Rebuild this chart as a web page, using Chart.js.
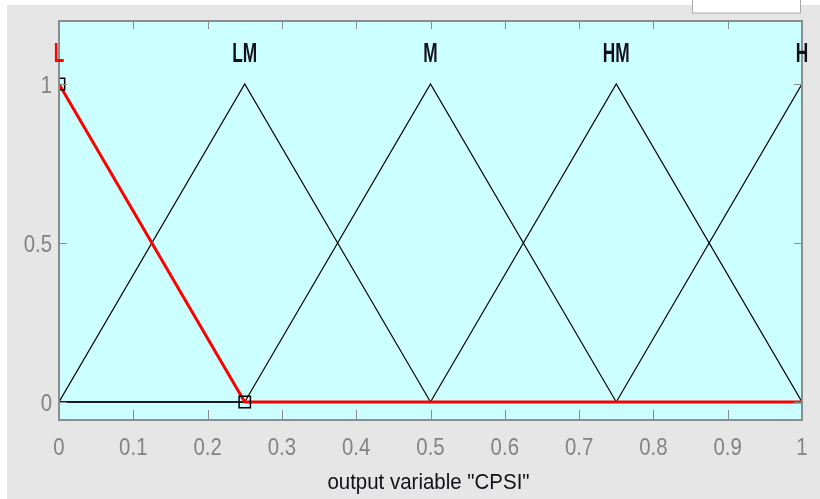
<!DOCTYPE html>
<html>
<head>
<meta charset="utf-8">
<script src="https://cdn.jsdelivr.net/npm/chart.js@4/dist/chart.umd.min.js"></script>
<style>
  html, body { margin: 0; padding: 0; background: #fff; }
  #mfChart { display: block; }
</style>
</head>
<body>
<canvas id="mfChart" width="820" height="499"></canvas>
<script>
// membership functions of output variable "CPSI", sampled at the break points
const xValues = [0, 0.25, 0.5, 0.75, 1]
const mfNames = ['L', 'LM', 'M', 'HM', 'H']
const mfPeaks = [0, 0.25, 0.5, 0.75, 1]
const mfL = [1, 0, 0, 0, 0]
const mfLM = [0, 1, 0, 0, 0]
const mfM = [0, 0, 1, 0, 0]
const mfHM = [0, 0, 0, 1, 0]
const mfH = [0, 0, 0, 0, 1]
const yTicks = [0, 0.5, 1]
const axisTitle = 'output variable "CPSI"'

const sans = "'Liberation Sans', Arial, Helvetica, sans-serif"
const tickGray = '#838383'

const toPoints = (ys) => xValues.map((x, i) => ({ x: x, y: ys[i] }))

const blackMf = (label, ys) => ({
  label: label,
  data: toPoints(ys),
  showLine: true,
  borderColor: '#000000',
  borderWidth: 1.2,
  pointRadius: 0,
  tension: 0
})

const datasets = [
  {
    label: 'L',
    data: toPoints(mfL),
    showLine: true,
    borderColor: '#ff0000',
    borderWidth: 3,
    tension: 0,
    clip: 0,
    pointStyle: 'rect',
    pointRadius: [8, 8, 0, 0, 0],
    pointBorderColor: '#000000',
    pointBackgroundColor: 'rgba(0,0,0,0)',
    pointBorderWidth: 1.5
  },
  blackMf('LM', mfLM),
  blackMf('M', mfM),
  blackMf('HM', mfHM),
  blackMf('H', mfH)
]

// the matlab text is narrow, so squeeze it sideways
function narrowText (ctx, text, x, y, font, squeeze, align) {
  ctx.save()
  ctx.translate(x, y)
  ctx.scale(squeeze, 1)
  ctx.font = font
  ctx.textAlign = align
  ctx.textBaseline = 'alphabetic'
  ctx.fillText(text, 0, 0)
  ctx.restore()
}

// gray figure, white strips and the cyan axes area
const figureBackground = {
  id: 'figureBackground',
  beforeDraw (chart) {
    const { ctx, chartArea: a, width, height } = chart
    ctx.save()
    ctx.fillStyle = '#ffffff'
    ctx.fillRect(0, 0, width, height)
    ctx.fillStyle = '#e6e6e6'
    ctx.fillRect(7, 5, width - 7, height - 5)
    ctx.fillStyle = '#ffffff'
    ctx.fillRect(692, 0, 109, 13)
    ctx.strokeStyle = '#a8a8a8'
    ctx.lineWidth = 1
    ctx.strokeRect(692.5, -1, 108, 14)
    ctx.fillStyle = '#ccffff'
    ctx.fillRect(a.left, a.top, a.right - a.left, a.bottom - a.top)
    ctx.restore()
  }
}

// matlab style box with inward ticks, tick labels, axis title and MF names
const axesFrame = {
  id: 'axesFrame',
  afterDraw (chart) {
    const { ctx, chartArea: a, scales } = chart
    const x = scales.x
    const y = scales.y
    ctx.save()
    ctx.strokeStyle = '#8c8c8c'
    ctx.lineWidth = 1
    ctx.beginPath()
    x.ticks.forEach(t => {
      const px = Math.round(x.getPixelForValue(t.value)) + 0.5
      ctx.moveTo(px, a.bottom)
      ctx.lineTo(px, a.bottom - 10)
      ctx.moveTo(px, a.top)
      ctx.lineTo(px, a.top + 8)
    })
    y.ticks.forEach(t => {
      const py = Math.round(y.getPixelForValue(t.value)) + 0.5
      ctx.moveTo(a.left, py)
      ctx.lineTo(a.left + 8, py)
      ctx.moveTo(a.right, py)
      ctx.lineTo(a.right - 8, py)
    })
    ctx.stroke()
    ctx.lineWidth = 2
    ctx.strokeRect(a.left, a.top, a.right - a.left, a.bottom - a.top)

    ctx.fillStyle = tickGray
    const tickFont = '24px ' + sans
    x.ticks.forEach(t => {
      const label = String(Number(Number(t.value).toFixed(1)))
      narrowText(ctx, label, x.getPixelForValue(t.value), a.bottom + 35, tickFont, 0.85, 'center')
    })
    y.ticks.forEach(t => {
      narrowText(ctx, String(t.value), a.left - 7, y.getPixelForValue(t.value) + 9, tickFont, 0.85, 'right')
    })

    ctx.fillStyle = '#111118'
    narrowText(ctx, axisTitle, (a.left + a.right) / 2 - 2, a.bottom + 69, '22px ' + sans, 0.93, 'center')

    mfNames.forEach((name, i) => {
      ctx.fillStyle = i === 0 ? '#ff0000' : '#10101a'
      narrowText(ctx, name, x.getPixelForValue(mfPeaks[i]), y.getPixelForValue(1.1) + 10, 'bold 27px ' + sans, 0.64, 'center')
    })
    ctx.restore()
  }
}

new Chart(document.getElementById('mfChart'), {
  type: 'scatter',
  data: { datasets: datasets },
  options: {
    responsive: false,
    animation: false,
    layout: { padding: { top: 21, right: 18, bottom: 0, left: 0 } },
    plugins: {
      legend: { display: false },
      tooltip: { enabled: false }
    },
    scales: {
      x: {
        type: 'linear',
        min: 0,
        max: 1,
        grid: { display: false, drawTicks: false },
        border: { display: false },
        ticks: { stepSize: 0.1, autoSkip: false, display: false },
        afterFit (scale) { scale.height = 79 }
      },
      y: {
        type: 'linear',
        min: -0.0566,
        max: 1.198,
        grid: { display: false, drawTicks: false },
        border: { display: false },
        afterBuildTicks (scale) {
          scale.ticks = yTicks.map(v => ({ value: v }))
        },
        ticks: { display: false },
        afterFit (scale) { scale.width = 59 }
      }
    }
  },
  plugins: [figureBackground, axesFrame]
})
</script>
</body>
</html>
